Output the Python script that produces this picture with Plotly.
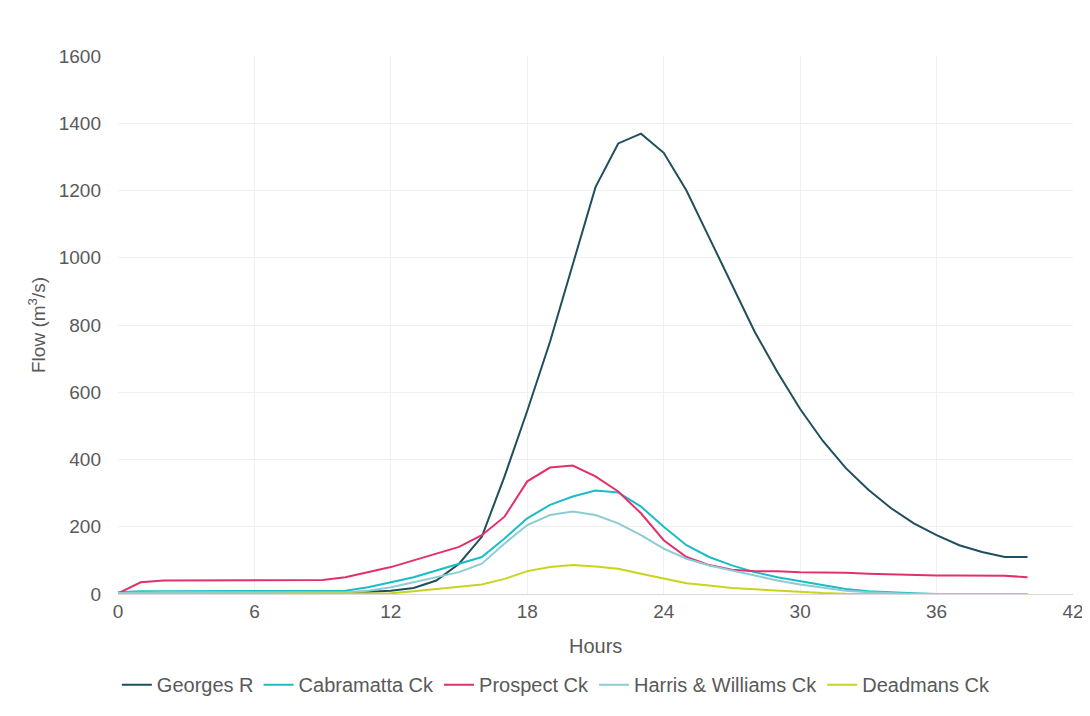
import plotly.graph_objects as go

hours = list(range(0, 41))

georges = [3, 5, 5, 5, 5, 5, 5, 5, 5, 5, 5, 7, 10, 18, 40, 90, 170, 350, 545, 750,
           980, 1210, 1340, 1369, 1312, 1200, 1060, 920, 780, 660, 550, 455, 375, 310, 255,
           210, 175, 145, 125, 110, 110]
cabramatta = [5, 8, 8, 8, 8, 8, 8, 8, 8, 8, 10, 20, 35, 50, 70, 90, 110, 165, 225, 265,
              290, 308, 302, 260, 200, 145, 110, 85, 65, 50, 38, 25, 15, 8, 4,
              2, 0, 0, 0, 0, 0]
prospect = [2, 35, 40, 40, 40, 40, 40, 40, 40, 42, 50, 65, 80, 100, 120, 140, 175, 230, 335, 376,
            382, 350, 305, 240, 160, 110, 86, 72, 68, 68, 65, 65, 63, 60, 58,
            56, 55, 55, 55, 54, 50]
harris = [3, 5, 5, 5, 5, 5, 5, 5, 5, 5, 5, 10, 20, 35, 50, 65, 90, 150, 205, 235,
          245, 235, 210, 175, 135, 105, 85, 70, 55, 40, 28, 18, 10, 5, 2,
          0, 0, 0, 0, 0, 0]
deadmans = [0, 0, 0, 0, 0, 0, 0, 0, 0, 0, 0, 0, 2, 8, 14, 20, 28, 45, 68, 80,
            86, 82, 75, 60, 45, 32, 25, 18, 14, 10, 6, 3, 1, 1, 1,
            1, 0, 0, 0, 0, 0]

series = [
    ("Georges R", georges, "#1f4f5c"),
    ("Cabramatta Ck", cabramatta, "#1bbcc6"),
    ("Prospect Ck", prospect, "#e2306e"),
    ("Harris & Williams Ck", harris, "#8ccdd4"),
    ("Deadmans Ck", deadmans, "#c9d41e"),
]

x_ticks = [0, 6, 12, 18, 24, 30, 36, 42]
y_ticks = [0, 200, 400, 600, 800, 1000, 1200, 1400, 1600]

fig = go.Figure()
for name, vals, color in series:
    fig.add_trace(go.Scatter(x=hours, y=vals, mode="lines", name=name,
                             line=dict(color=color, width=2)))

font_family = "Liberation Sans, Arial, sans-serif"
txt = "#595959"
fs = 19
fig.update_layout(
    width=1082, height=708,
    margin=dict(l=110, r=17, t=48, b=120),
    paper_bgcolor="white", plot_bgcolor="white",
    font=dict(family=font_family, size=fs, color=txt),
    showlegend=True,
    legend=dict(orientation="h", x=0.459, xanchor="center", y=-0.1685, yanchor="middle",
                font=dict(size=20, color=txt), itemwidth=30, tracegroupgap=0),
    xaxis=dict(range=[0, 42], tickvals=x_ticks, showgrid=True, gridcolor="#f0f0f0",
               zeroline=False, showline=True, linecolor="#d9d9d9", linewidth=1,
               ticks="", tickfont=dict(size=fs, color=txt), automargin=False),
    yaxis=dict(range=[0, 1600], tickvals=y_ticks, showgrid=True, gridcolor="#f0f0f0",
               zeroline=False, showline=False, ticks="", ticklabelstandoff=16,
               tickfont=dict(size=fs, color=txt), automargin=False),
    annotations=[
        dict(text="Hours", xref="paper", yref="paper", x=0.5, y=0, xanchor="center",
             yanchor="middle", yshift=-52, showarrow=False, font=dict(size=20, color=txt)),
        dict(text="Flow (m<sup>3</sup>/s)", xref="paper", yref="paper", x=0, y=0.5,
             xanchor="center", yanchor="middle", xshift=-81, textangle=-90,
             showarrow=False, font=dict(size=fs, color=txt)),
    ],
)

fig.write_html("out.html")
